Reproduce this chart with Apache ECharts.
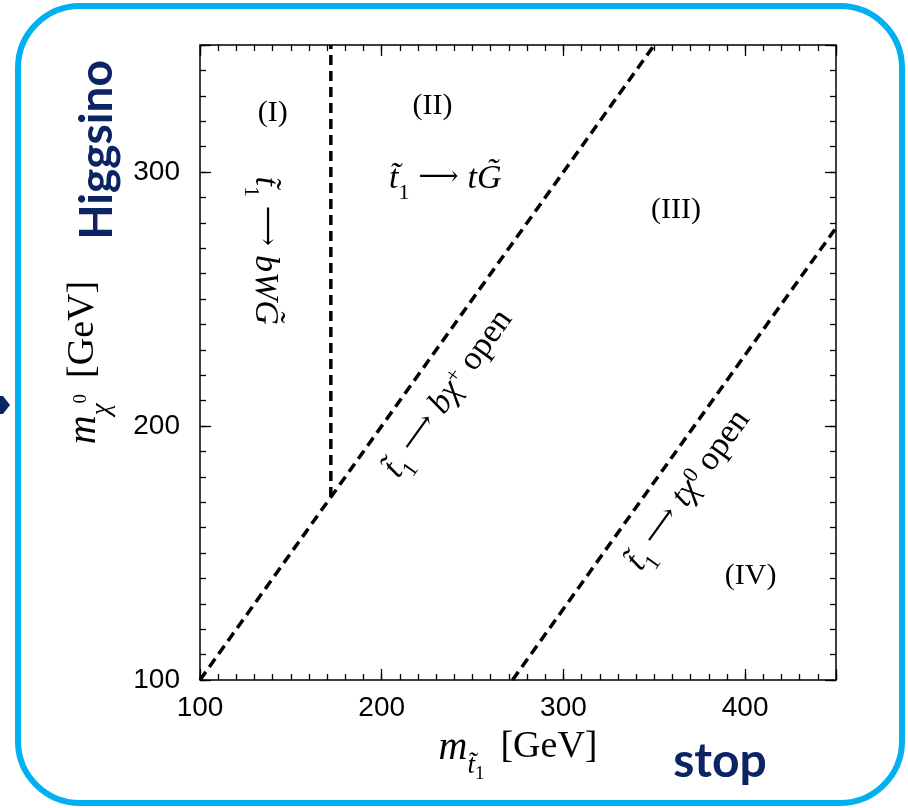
<!DOCTYPE html>
<html><head><meta charset="utf-8">
<script src="https://cdn.jsdelivr.net/npm/echarts@6/dist/echarts.min.js"></script>
<style>html,body{margin:0;padding:0;background:#fff}#c{width:908px;height:808px}</style>
</head><body><div id="c"></div>
<script>
// ---- data ----
const xTickLabels = ['100', '200', '300', '400'];
const yTickLabels = ['100', '200', '300'];
// m_chi = m_stop  (t1 -> b chi+ open)
const bChiLineX = [100, 350];
const bChiLineY = [100, 350];
// m_stop = m_top vertical boundary
const topLineX = [172, 172];
const topLineY = [172, 350];
// m_chi = m_stop - m_top  (t1 -> t chi0 open)
const tChiLineX = [272, 450];
const tChiLineY = [100, 278];
// region tags
const regionNames = ['(I)', '(II)', '(III)', '(IV)'];
const regionX = [140, 228, 362, 403];
const regionY = [323, 326, 285, 141];
// decay annotations
const decayTexts = [
  '{it|t\u0303}{sub|1}{ar| \u27f6 }{it|tG\u0303}',
  '{it|t\u0303}{sub|1}{ar| \u27f6 }{it|bWG\u0303}',
  '{it|t\u0303}{sub|1}{ar| \u27f6 }{it|b\u03c7}{sup|+}{n| open}',
  '{it|t\u0303}{sub|1}{ar| \u27f6 }{it|t\u03c7}{sup|0}{n| open}'
];
const decayX = [235, 134, 238, 370];
const decayY = [296, 269, 212, 174];

// ---- styles ----
const SERIF = '"Liberation Serif","DejaVu Serif",serif';
const SANS = '"Liberation Sans",Arial,sans-serif';
const NAVY = '#0b2463';
const decayRot = [0, -90, 54.4, 54.4];

const base = {color: '#000', textBorderWidth: 0, opacity: 1};
const richDecay = {
  it: Object.assign({fontFamily: SERIF, fontStyle: 'italic', fontSize: 34, lineHeight: 40, verticalAlign: 'top'}, base),
  n: Object.assign({fontFamily: SERIF, fontSize: 34, lineHeight: 40, verticalAlign: 'top'}, base),
  ar: Object.assign({fontFamily: '"DejaVu Serif",serif', fontSize: 28, lineHeight: 40, verticalAlign: 'top', padding: [2, 0, 0, 0]}, base),
  sub: Object.assign({fontFamily: SERIF, fontSize: 22, lineHeight: 22, padding: [20, 0, 0, 0], verticalAlign: 'top'}, base),
  sup: Object.assign({fontFamily: SERIF, fontSize: 22, lineHeight: 22, padding: [0, 0, 0, 0], verticalAlign: 'top'}, base)
};
const richName = {
  m: {fontFamily: SERIF, fontStyle: 'italic', fontSize: 40, lineHeight: 48, verticalAlign: 'top', color: '#000'},
  s1: {fontFamily: SERIF, fontStyle: 'italic', fontSize: 27, lineHeight: 27, padding: [24, 0, 0, 0], verticalAlign: 'top', color: '#000'},
  s2: {fontFamily: SERIF, fontSize: 19, lineHeight: 19, padding: [8, 0, 0, 0], verticalAlign: 'top', color: '#000'},
  s3: {fontFamily: SERIF, fontSize: 19, lineHeight: 19, padding: [37, 0, 0, 0], verticalAlign: 'top', color: '#000'},
  g: {fontFamily: SERIF, fontSize: 38, lineHeight: 48, verticalAlign: 'top', color: '#000', padding: [0, 0, 0, 16]}
};

function zip(a, b) { return a.map((v, i) => [v, b[i]]); }

const tickStyle = {color: '#000', width: 1.3};
function minorAxis(pos, min, max, extra) {
  return Object.assign({
    type: 'value', position: pos, min: min, max: max, interval: 10,
    axisLine: {show: false}, splitLine: {show: false},
    axisTick: {show: true, inside: true, length: 6, lineStyle: tickStyle},
    axisLabel: {show: false}
  }, extra || {});
}
function majorAxis(pos, min, max, labels, margin) {
  return {
    type: 'value', position: pos, min: min, max: max, interval: 100,
    axisLine: {show: false}, splitLine: {show: false},
    axisTick: {show: true, inside: true, length: 11, lineStyle: tickStyle},
    axisLabel: labels ? {
      show: true, margin: margin, fontFamily: SANS, fontSize: 28, color: '#000',
      formatter: v => { const i = labels.indexOf(String(v)); return i >= 0 ? labels[i] : ''; }
    } : {show: false}
  };
}

const chart = echarts.init(document.getElementById('c'), null, {renderer: 'canvas'});
const dashed = {color: '#000', width: 3.5, type: [10, 6]};

chart.setOption({
  animation: false,
  backgroundColor: '#fff',
  grid: {left: 200, top: 45, width: 636, height: 635, show: true, borderColor: '#000', borderWidth: 1.5, backgroundColor: '#fff'},
  xAxis: [
    minorAxis('bottom', 100, 450, {
      name: '{m|m}{s1|t\u0303}{s3|1}{g|[GeV]}', nameLocation: 'middle', nameGap: 48,
      nameTextStyle: {rich: richName}
    }),
    majorAxis('bottom', 100, 450, xTickLabels, 14),
    minorAxis('top', 100, 450),
    majorAxis('top', 100, 450, null)
  ],
  yAxis: [
    minorAxis('left', 100, 350, {
      name: '{m|m}{s1|\u03c7}{s2|0}{g|[GeV]}', nameLocation: 'middle', nameGap: 88, nameRotate: 90,
      nameTextStyle: {rich: richName}
    }),
    majorAxis('left', 100, 350, yTickLabels, 20),
    minorAxis('right', 100, 350),
    majorAxis('right', 100, 350, null)
  ],
  series: [
    {type: 'line', xAxisIndex: 0, yAxisIndex: 0, data: zip(bChiLineX, bChiLineY), showSymbol: false, lineStyle: dashed, clip: true, silent: true},
    {type: 'line', xAxisIndex: 0, yAxisIndex: 0, data: zip(topLineX, topLineY), showSymbol: false, lineStyle: dashed, clip: true, silent: true},
    {type: 'line', xAxisIndex: 0, yAxisIndex: 0, data: zip(tChiLineX, tChiLineY), showSymbol: false, lineStyle: dashed, clip: true, silent: true},
    {
      type: 'scatter', xAxisIndex: 0, yAxisIndex: 0, symbolSize: 0, silent: true,
      itemStyle: {opacity: 1},
      label: Object.assign({show: true, position: 'inside', fontFamily: SERIF, fontSize: 30,
        formatter: p => regionNames[p.dataIndex]}, base),
      data: zip(regionX, regionY)
    },
    {
      type: 'scatter', xAxisIndex: 0, yAxisIndex: 0, symbolSize: 0, silent: true,
      itemStyle: {opacity: 1},
      label: Object.assign({show: true, position: 'inside', rich: richDecay}, base),
      data: zip(decayX, decayY).map((v, i) => ({
        value: v,
        label: {formatter: decayTexts[i], rotate: decayRot[i]}
      }))
    }
  ],
  graphic: [
    {type: 'rect', shape: {x: 18, y: 6, width: 884, height: 797, r: 62},
      style: {fill: 'none', stroke: '#00b0f0', lineWidth: 6}, silent: true},
    {type: 'polygon', shape: {points: [[0, 396], [3, 396], [10, 405], [3, 414], [0, 414]]},
      style: {fill: NAVY}, silent: true},
    {type: 'text', x: 97, y: 150, rotation: Math.PI / 2,
      style: {text: 'Higgsino', fontFamily: 'Lato', fontWeight: 'bold', fontSize: 46, fill: NAVY, align: 'center', verticalAlign: 'middle'}},
    {type: 'text', x: 720, y: 762,
      style: {text: 'stop', fontFamily: 'Lato', fontWeight: 'bold', fontSize: 48, fill: NAVY, align: 'center', verticalAlign: 'middle'}}
  ]
});
</script>
</body></html>
